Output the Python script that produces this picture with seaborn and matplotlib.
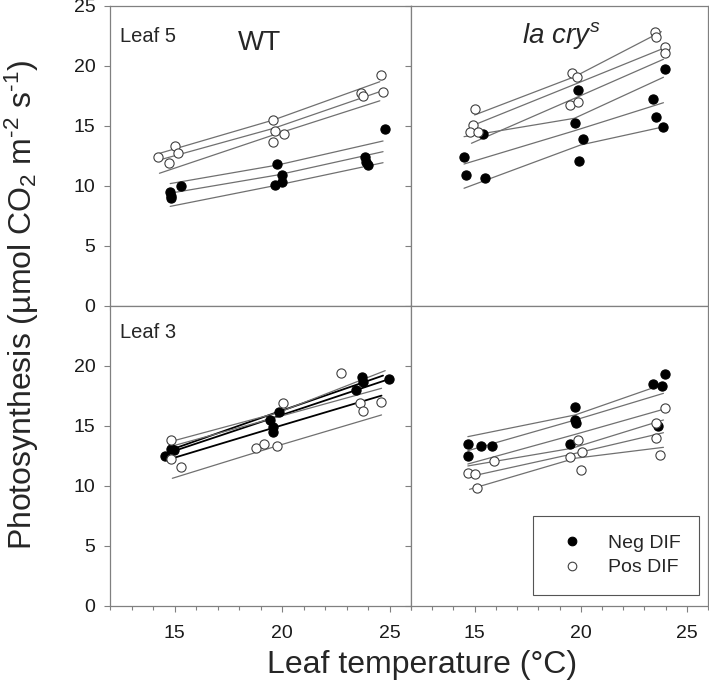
import numpy as np
import pandas as pd
import seaborn as sns
import matplotlib
matplotlib.use("Agg")
import matplotlib.pyplot as plt
from matplotlib.lines import Line2D
from matplotlib.ticker import MultipleLocator

# ---- values ----
# WT, leaf 5
wt5_neg_t = [14.81, 14.84, 14.82, 15.28, 19.77, 20.0, 20.0, 19.67, 23.86, 23.93, 24.0, 24.79]
wt5_neg_p = [9.5, 9.2, 9.0, 10.0, 11.83, 10.92, 10.31, 10.08, 12.39, 12.03, 11.75, 14.72]
wt5_pos_t = [14.21, 15.04, 15.15, 14.76, 19.57, 19.68, 20.08, 19.57, 23.67, 23.78, 24.6, 24.68]
wt5_pos_p = [12.39, 13.33, 12.78, 11.89, 15.5, 14.58, 14.33, 13.64, 17.78, 17.5, 19.25, 17.83]

# la cry^s, leaf 5
la5_neg_t = [15.38, 14.52, 14.6, 15.5, 19.85, 19.74, 20.13, 19.9, 23.95, 23.4, 23.53, 23.9]
la5_neg_p = [14.33, 12.44, 10.92, 10.64, 18.0, 15.28, 13.92, 12.11, 19.72, 17.22, 15.72, 14.89]
la5_pos_t = [15.02, 14.91, 14.8, 15.15, 19.58, 19.82, 19.48, 19.85, 23.48, 23.53, 23.95, 23.95]
la5_pos_p = [16.39, 15.08, 14.53, 14.53, 19.39, 19.06, 16.75, 17.03, 22.86, 22.44, 21.56, 21.06]

# WT, leaf 3
wt3_neg_t = [14.57, 14.84, 14.99, 19.88, 19.46, 19.57, 19.57, 23.46, 23.7, 23.78, 24.98]
wt3_neg_p = [12.5, 13.06, 13.0, 16.19, 15.5, 14.94, 14.53, 18.0, 19.06, 18.69, 18.89]
wt3_pos_t = [14.84, 14.84, 15.28, 18.79, 19.18, 19.75, 20.06, 22.76, 23.62, 23.78, 24.6]
wt3_pos_p = [13.83, 12.22, 11.61, 13.14, 13.47, 13.33, 16.89, 19.44, 16.94, 16.25, 16.97]

# la cry^s, leaf 3
la3_neg_t = [14.68, 14.68, 15.3, 15.82, 19.74, 19.74, 19.77, 19.51, 23.95, 23.4, 23.84, 23.64]
la3_neg_p = [13.5, 12.53, 13.36, 13.36, 16.56, 15.5, 15.22, 13.47, 19.33, 18.47, 18.33, 15.03]
la3_pos_t = [15.93, 14.68, 15.02, 15.12, 19.85, 20.05, 19.51, 20.02, 23.95, 23.56, 23.53, 23.74]
la3_pos_p = [12.08, 11.06, 10.97, 9.81, 13.83, 12.86, 12.44, 11.33, 16.47, 15.28, 13.97, 12.58]

# fitted lines, one per plant (temperature, photosynthesis at three points)
wt5_neg_fit_t = [[14.8, 19.8, 24.7], [14.8, 19.8, 24.7], [14.8, 19.8, 24.7]]
wt5_neg_fit_p = [[10.2, 11.75, 13.75], [9.4, 10.92, 12.86], [8.3, 10.08, 11.94]]
wt5_pos_fit_t = [[14.3, 19.6, 24.55], [14.3, 19.6, 24.55], [14.3, 19.6, 24.55]]
wt5_pos_fit_p = [[12.72, 15.5, 18.69], [12.17, 14.8, 17.86], [11.06, 14.25, 17.1]]

la5_neg_fit_t = [[14.5, 19.7, 23.9], [14.5, 19.7, 23.9], [14.5, 20.0, 23.8]]
la5_neg_fit_p = [[14.11, 15.64, 19.06], [11.83, 14.6, 16.94], [9.81, 13.42, 14.89]]
la5_pos_fit_t = [[15.0, 19.7, 23.8], [14.85, 19.7, 23.9], [14.85, 19.7, 23.9]]
la5_pos_fit_p = [[15.92, 19.1, 22.86], [15.0, 18.46, 21.47], [13.56, 17.3, 20.56]]

wt3_neg_fit_t = [[14.65, 19.8, 24.95], [14.8, 19.7, 24.63], [14.8, 19.7, 24.7]]
wt3_neg_fit_p = [[12.72, 15.8, 18.89], [12.25, 14.9, 17.53], [13.0, 16.1, 19.2]]
wt3_pos_fit_t = [[14.8, 19.8, 24.8], [14.8, 19.7, 24.63], [14.9, 19.7, 24.63]]
wt3_pos_fit_p = [[13.69, 16.1, 19.61], [13.28, 15.7, 18.14], [10.64, 13.3, 15.92]]

la3_neg_fit_t = [[14.68, 19.74, 23.6], [14.68, 19.74, 23.9], [14.68, 19.74, 23.9]]
la3_neg_fit_p = [[14.11, 15.92, 18.3], [12.94, 15.5, 17.72], [11.83, 14.3, 16.39]]
la3_pos_fit_t = [[14.68, 19.58, 23.9], [14.76, 19.7, 23.9], [14.76, 19.74, 23.9]]
la3_pos_fit_p = [[11.67, 13.14, 15.5], [10.78, 12.7, 14.44], [9.72, 12.31, 13.22]]

groups = ["Neg DIF", "Pos DIF"]

panels = {
    (0, 0): ((wt5_neg_t, wt5_neg_p, wt5_pos_t, wt5_pos_p),
             (wt5_neg_fit_t, wt5_neg_fit_p, wt5_pos_fit_t, wt5_pos_fit_p)),
    (0, 1): ((la5_neg_t, la5_neg_p, la5_pos_t, la5_pos_p),
             (la5_neg_fit_t, la5_neg_fit_p, la5_pos_fit_t, la5_pos_fit_p)),
    (1, 0): ((wt3_neg_t, wt3_neg_p, wt3_pos_t, wt3_pos_p),
             (wt3_neg_fit_t, wt3_neg_fit_p, wt3_pos_fit_t, wt3_pos_fit_p)),
    (1, 1): ((la3_neg_t, la3_neg_p, la3_pos_t, la3_pos_p),
             (la3_neg_fit_t, la3_neg_fit_p, la3_pos_fit_t, la3_pos_fit_p)),
}

sns.set_style("ticks")
plt.rcParams["font.family"] = ["Liberation Sans", "DejaVu Sans"]
plt.rcParams["mathtext.fontset"] = "custom"
plt.rcParams["mathtext.rm"] = "Liberation Sans"
plt.rcParams["mathtext.it"] = "Liberation Sans:italic"
plt.rcParams["mathtext.bf"] = "Liberation Sans:bold"

grey = "#808080"
fig = plt.figure(figsize=(7.09, 6.97), dpi=100)

lefts = [110 / 709, 411 / 709]
widths = [301 / 709, 297 / 709]
bottoms = [0.5610, 0.1306]
height = 0.4304

axes = {}
for (r, c), (pts, fits) in panels.items():
    ax = fig.add_axes([lefts[c], bottoms[r], widths[c], height])
    axes[(r, c)] = ax

    # fitted lines first
    for gi, g in enumerate(groups):
        ft, fp = fits[2 * gi], fits[2 * gi + 1]
        rows = []
        for k, (tt, pp) in enumerate(zip(ft, fp)):
            for t, p in zip(tt, pp):
                rows.append((k, t, p))
        ldf = pd.DataFrame(rows, columns=["plant", "temp", "photo"])
        if (r, c) == (1, 0) and g == "Neg DIF":
            col, lw = "black", 1.3
        else:
            col, lw = "#707070", 0.9
        sns.lineplot(data=ldf, x="temp", y="photo", units="plant", estimator=None,
                     color=col, lw=lw, sort=False, ax=ax, legend=False)

    # points
    t_neg, p_neg, t_pos, p_pos = pts
    df = pd.DataFrame({
        "temp": t_neg + t_pos,
        "photo": p_neg + p_pos,
        "dif": ["Neg DIF"] * len(t_neg) + ["Pos DIF"] * len(t_pos),
    })
    sns.scatterplot(data=df[df.dif == "Neg DIF"], x="temp", y="photo", color="black",
                    edgecolor="black", s=44, linewidth=0.8, ax=ax, legend=False, zorder=3)
    sns.scatterplot(data=df[df.dif == "Pos DIF"], x="temp", y="photo", color="white",
                    edgecolor="#404040", s=44, linewidth=0.8, ax=ax, legend=False, zorder=3)

    ax.set_xlim(12, 26)
    ax.set_ylim(0, 25)
    ax.xaxis.set_major_locator(MultipleLocator(5))
    ax.xaxis.set_minor_locator(MultipleLocator(1))
    if r == 0:
        ax.set_yticks([0, 5, 10, 15, 20, 25])
    else:
        ax.set_yticks([0, 5, 10, 15, 20])
    ax.set_xlabel("")
    ax.set_ylabel("")
    for sp in ax.spines.values():
        sp.set_visible(True)
        sp.set_color(grey)
        sp.set_linewidth(0.9)
    ax.tick_params(which="both", direction="out", color=grey, width=0.8,
                   labelsize=14, labelcolor="#1a1a1a")
    ax.tick_params(which="major", length=4.5)
    ax.tick_params(which="minor", length=2.8)
    ax.tick_params(axis="x", pad=9)
    ax.tick_params(axis="y", pad=6)
    ax.tick_params(labelbottom=(r == 1), labelleft=(c == 0))

axes[(0, 0)].text(12.47, 22.03, "Leaf 5", fontsize=14.5, ha="left", va="baseline")
axes[(1, 0)].text(12.47, 22.3, "Leaf 3", fontsize=14.5, ha="left", va="baseline")
axes[(0, 0)].text(18.97, 21.33, "WT", fontsize=20, ha="center", va="baseline")
axes[(0, 1)].text(19.07, 21.9, r"$\mathit{la\ cry}^{\mathit{s}}$", fontsize=20,
                  ha="center", va="baseline")

handles = [
    Line2D([], [], ls="none", marker="o", ms=6.2, mfc="black", mec="black", mew=0.8),
    Line2D([], [], ls="none", marker="o", ms=6.2, mfc="white", mec="#404040", mew=0.8),
]
leg = axes[(1, 1)].legend(handles, groups, loc="lower right", bbox_to_anchor=(0.97, 0.037),
                          borderaxespad=0, fontsize=14, frameon=True, fancybox=False,
                          framealpha=1, edgecolor="#555555", borderpad=0.95,
                          handlelength=2.1, handletextpad=0.8, labelspacing=0.35)
leg.get_frame().set_linewidth(0.8)

fig.text(0.031, 0.5625,
         r"Photosynthesis (µmol CO$_2$ m$^{\text{-}2}$ s$^{\text{-}1}$)",
         rotation=90, fontsize=23, ha="center", va="center")
fig.text(0.595, 0.046, "Leaf temperature (°C)", fontsize=23, ha="center", va="center")

fig.savefig("out.png", dpi=100)
